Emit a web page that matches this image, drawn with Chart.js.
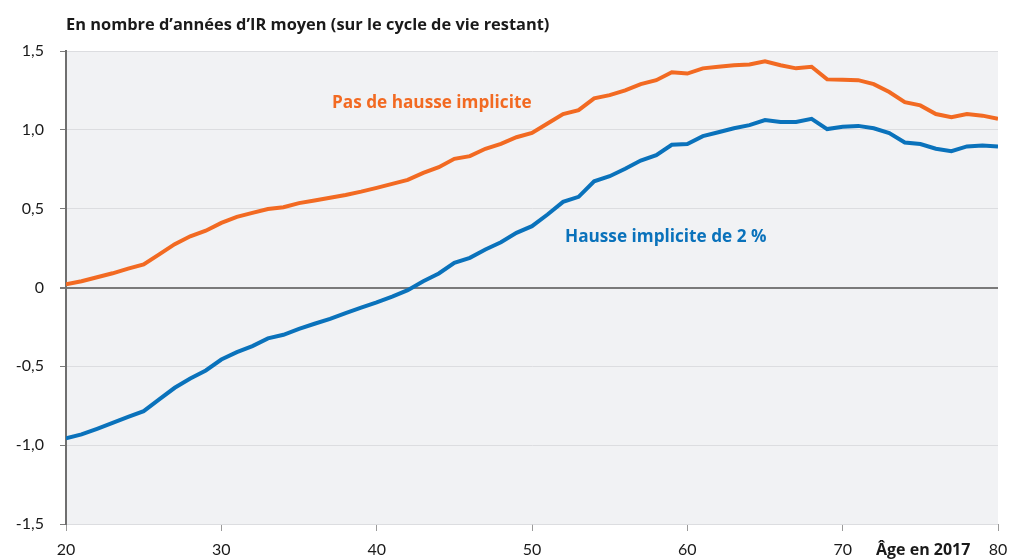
<!DOCTYPE html>
<html>
<head>
<meta charset="utf-8">
<script src="https://cdn.jsdelivr.net/npm/chart.js@4"></script>
<style>
  html, body { margin: 0; padding: 0; background: #fff; }
  #wrap { width: 1009px; height: 560px; position: relative; }
</style>
</head>
<body>
<div id="wrap"><canvas id="chart"></canvas></div>
<script>
// Ages 20..80
const ages = [20,21,22,23,24,25,26,27,28,29,30,31,32,33,34,35,36,37,38,39,40,
  41,42,43,44,45,46,47,48,49,50,51,52,53,54,55,56,57,58,59,60,
  61,62,63,64,65,66,67,68,69,70,71,72,73,74,75,76,77,78,79,80];

// Pas de hausse implicite
const noRise = [0.02,0.04,0.065,0.09,0.12,0.146,0.21,0.275,0.325,0.36,0.41,0.448,0.473,0.498,0.509,0.535,0.552,0.569,0.587,0.608,0.632,
  0.657,0.683,0.727,0.763,0.816,0.833,0.88,0.911,0.953,0.98,1.04,1.10,1.125,1.20,1.22,1.25,1.29,1.315,1.365,1.357,
  1.39,1.40,1.41,1.415,1.435,1.41,1.39,1.40,1.32,1.318,1.315,1.29,1.24,1.175,1.155,1.10,1.08,1.10,1.09,1.07];

// Hausse implicite de 2 %
const rise2 = [-0.957,-0.932,-0.896,-0.858,-0.82,-0.784,-0.71,-0.636,-0.577,-0.526,-0.457,-0.41,-0.372,-0.323,-0.30,-0.262,-0.23,-0.199,-0.162,-0.128,-0.095,
  -0.058,-0.017,0.04,0.089,0.157,0.188,0.241,0.287,0.347,0.389,0.463,0.543,0.575,0.674,0.706,0.753,0.805,0.839,0.905,0.91,
  0.96,0.985,1.01,1.03,1.062,1.05,1.05,1.07,1.005,1.02,1.025,1.01,0.98,0.92,0.91,0.88,0.865,0.895,0.90,0.895];

const yTicks = [-1.5,-1,-0.5,0,0.5,1,1.5];
const xTicks = [20,30,40,50,60,70,80];

const ORANGE = '#f26a22';
const BLUE = '#0a72bb';
const FONT = 'Lato, "Open Sans", sans-serif';
const BOLD_FONT = '"Open Sans", Lato, sans-serif';

function fmt(v){
  if (v === 0) return '0';
  return v.toFixed(1).replace('.', ',');
}

const bgPlugin = {
  id: 'bg',
  beforeDraw(chart){
    const {ctx, chartArea:a} = chart;
    ctx.save();
    ctx.fillStyle = '#f1f2f4';
    ctx.fillRect(a.left, a.top, a.right - a.left, a.bottom - a.top);
    ctx.restore();
  }
};

const textPlugin = {
  id: 'texts',
  afterDraw(chart){
    const ctx = chart.ctx;
    ctx.save();
    ctx.textBaseline = 'middle';
    ctx.textAlign = 'left';
    ctx.fillStyle = '#1a1a1a';
    ctx.font = 'bold 16.4px ' + BOLD_FONT;
    ctx.fillText('En nombre d’années d’IR moyen (sur le cycle de vie restant)', 66, 25);
    ctx.font = 'bold 16px ' + BOLD_FONT;
    ctx.fillText('Âge en 2017', 876, 550);
    ctx.font = 'bold 17.2px ' + BOLD_FONT;
    ctx.fillStyle = ORANGE;
    ctx.fillText('Pas de hausse implicite', 332, 103);
    ctx.fillStyle = BLUE;
    ctx.fillText('Hausse implicite de 2 %', 565, 237);
    ctx.restore();
  }
};

new Chart(document.getElementById('chart'), {
  type: 'line',
  data: {
    datasets: [
      {
        label: 'Pas de hausse implicite',
        data: ages.map((a, i) => ({x: a, y: noRise[i]})),
        borderColor: ORANGE,
        borderWidth: 4,
        pointRadius: 0,
        tension: 0
      },
      {
        label: 'Hausse implicite de 2 %',
        data: ages.map((a, i) => ({x: a, y: rise2[i]})),
        borderColor: BLUE,
        borderWidth: 4,
        pointRadius: 0,
        tension: 0
      }
    ]
  },
  options: {
    responsive: true,
    maintainAspectRatio: false,
    animation: false,
    layout: { padding: { top: 51, right: 11, left: 0, bottom: 0 } },
    plugins: {
      legend: { display: false },
      tooltip: { enabled: false }
    },
    scales: {
      x: {
        type: 'linear',
        min: 20,
        max: 80,
        afterBuildTicks(scale){ scale.ticks = xTicks.map(v => ({value: v})); },
        afterFit(scale){
          scale.height = 36;
          scale.paddingLeft = 0;
          scale.paddingRight = 0;
        },
        grid: { drawOnChartArea: false, drawTicks: true, tickLength: 7, tickColor: '#9a9a9a', tickWidth: 1 },
        border: { display: false },
        ticks: {
          color: '#1a1a1a',
          font: { family: FONT, size: 16 },
          padding: 9,
          maxRotation: 0,
          autoSkip: false
        }
      },
      y: {
        min: -1.5,
        max: 1.5,
        afterBuildTicks(scale){ scale.ticks = yTicks.map(v => ({value: v})); },
        afterFit(scale){ scale.width = 66; },
        grid: {
          color: ctx => ctx.tick && ctx.tick.value === 0 ? '#7a7a7a' : '#dcdde0',
          lineWidth: ctx => ctx.tick && ctx.tick.value === 0 ? 2 : 1,
          tickColor: '#7a7a7a',
          tickLength: 6
        },
        border: { display: true, color: '#6f6f6f', width: 2 },
        ticks: {
          color: '#1a1a1a',
          font: { family: FONT, size: 16 },
          padding: 16,
          callback: v => fmt(v)
        }
      }
    }
  },
  plugins: [bgPlugin, textPlugin]
});
</script>
</body>
</html>
